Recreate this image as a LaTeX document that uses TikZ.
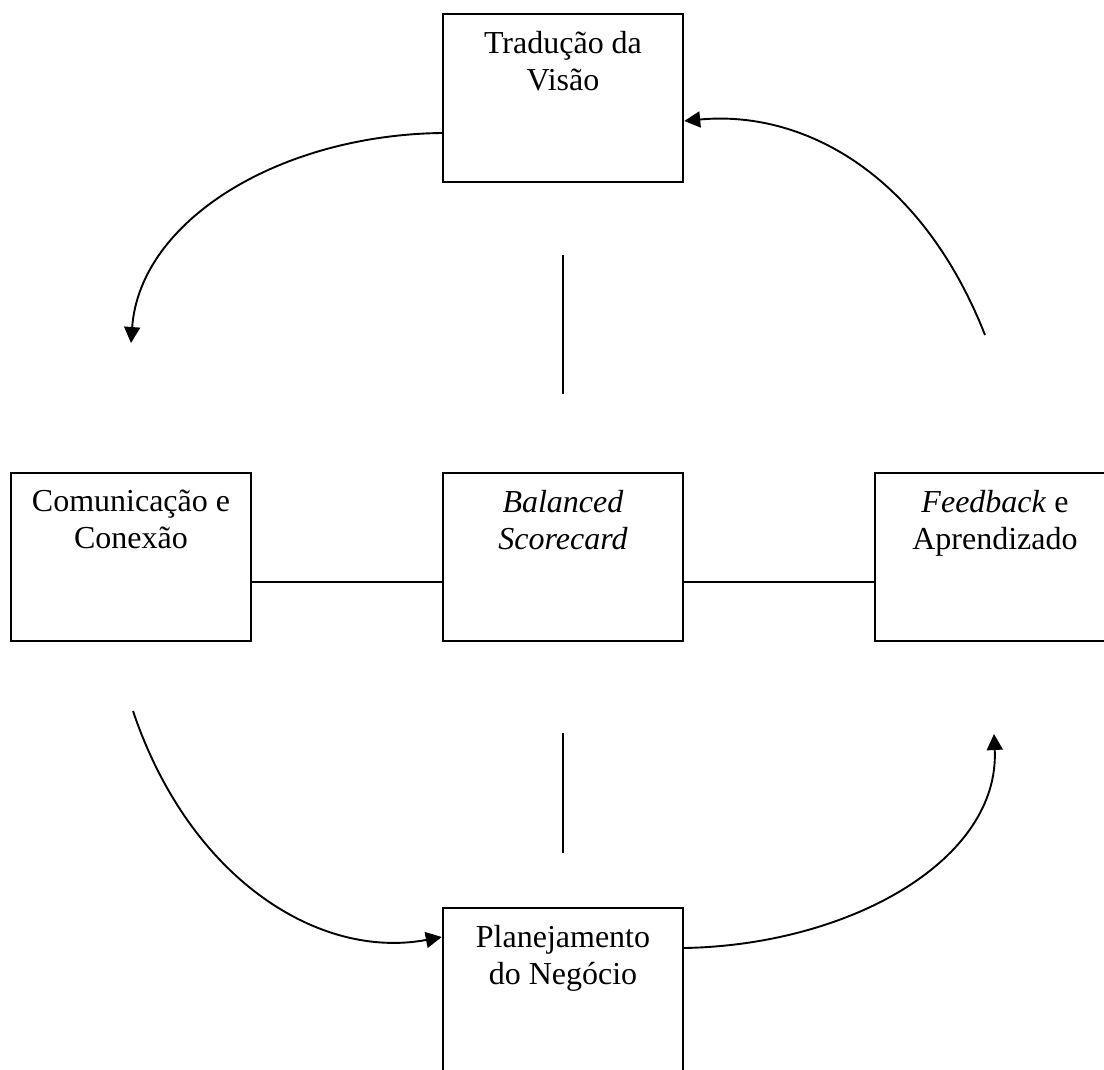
\documentclass[tikz,border=0pt]{standalone}
\usepackage{fontspec}
\setmainfont{Liberation Serif}
\usetikzlibrary{arrows.meta}

\begin{document}
\begin{tikzpicture}[x=1pt,y=-1pt,
    box/.style={draw,line width=2.4pt,minimum width=240pt,minimum height=168pt},
    boxtext/.style={anchor=north,align=center,inner sep=0pt,yshift=-18pt,
        font=\fontsize{32}{37}\selectfont},
    flow/.style={line width=1.9pt,-{Triangle[length=16pt,width=16pt]}},
    link/.style={line width=1.9pt}]
    \useasboundingbox (0,0) rectangle (1104,1070);

    \node[box,label={[boxtext]north:Tradução da\\Visão}] (trad) at (563,98) {};
    \node[box,label={[boxtext]north:Comunicação e\\Conexão}] (com) at (131,557) {};
    \node[box,label={[boxtext]north:\textit{Balanced}\\\textit{Scorecard}}] (bsc) at (563,557) {};
    \node[box,label={[boxtext]north:\textit{Feedback} e\\Aprendizado}] (feed) at (995,557) {};
    \node[box,label={[boxtext]north:Planejamento\\do Negócio}] (plan) at (563,992) {};

    \coordinate (up1) at (563,255);
    \coordinate (up2) at (563,394);
    \coordinate (dn1) at (563,733);
    \coordinate (dn2) at (563,853);
    \coordinate (comtip) at (131,343);
    \coordinate (feedend) at (985,335);
    \coordinate (comend) at (133,711);
    \coordinate (feedtip) at (994,734);

    \draw[link] (up1) -- (up2);
    \draw[link] (dn1) -- (dn2);
    \draw[link] ([yshift=-25pt]com.east) -- ([yshift=-25pt]bsc.west);
    \draw[link] ([yshift=-25pt]bsc.east) -- ([yshift=-25pt]feed.west);

    \draw[flow] ([yshift=-35pt]trad.west) .. controls (280,135) and (140,220) .. (comtip);
    \draw[flow] (feedend) .. controls (920,170) and (800,110) .. ([yshift=-23pt]trad.east);
    \draw[flow] (comend) .. controls (190,880) and (320,960) .. ([yshift=55pt]plan.west);
    \draw[flow] ([yshift=44pt]plan.east) .. controls (850,945) and (1000,860) .. (feedtip);
\end{tikzpicture}
\end{document}
